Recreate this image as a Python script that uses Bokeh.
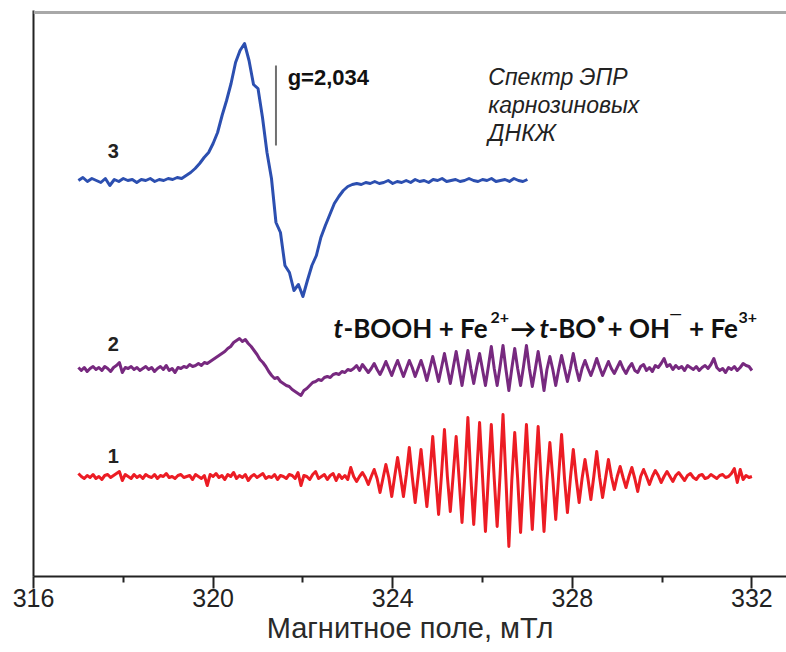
import numpy as np
from bokeh.plotting import figure
from bokeh.models import Range1d, FixedTicker, Label, Span
from bokeh.embed import file_html
from bokeh.resources import INLINE

# ---------------- data ----------------
# magnetic field range of the recorded spectra, mT
field_start = 317.0
field_end_1_2 = 332.0   # spectra 1 and 2
field_end_3 = 327.0     # spectrum 3

# spectrum 1 (red): intensity (a.u.) at equally spaced field points 317..332 mT
spec1 = [3, 0, -2, 1, -1, 2, -2, 0, -3, 1, 2, -1, 1, 3, 5, -4, 2, 0, -2, 2,
         -1, 1, -2, 2, 0, -1, 2, -2, 1, 0, 3, -1, 0, -2, 1, 2, -1, 0, 1, -3,
         2, 0, -2, 1, -9, 2, 0, 3, -1, 1, -3, 2, 0, 4, -2, 1, -1, 2, -4, 0,
         2, -1, 1, 3, -2, 0, -1, 2, -3, 1, 0, -2, 2, 1, -2, 4, -9, 1, 0, -3,
         2, 5, -2, 0, 2, -3, 1, 3, -4, 2, -2, 1, -3,
         9, 0, -5, 0, 4, -1, -8, 0, 7, -2,
         -16, -2, 12, -1, -20, 0, 19, 0, -20, 2,
         29, 0, -26, 0, 27, -2, -30, 2, 40, 0,
         -38, 2, 47, 0, -35, 2, 40, -2, -46, 3,
         59, 0, -48, 2, 54, 0, -55, 0, 52, -2,
         -50, 2, 62, -3, -70, -4, 44, -2, -56, 0,
         52, -2, -53, 0, 50, -3, -55, -4, 34, -2,
         -43, 0, 42, -2, -36, -2, 27, -2, -26, -2,
         17, -2, -23, 0, 25, -1, -21, -2, 17, 0,
         -13, 0, 10, -1, -11, 0, 9, -2, -15, 0,
         7, 0, -8, 0, 6, 1, -6, 0, 5, 0, -5, 1, 4, 0, -4, 1, 3, -1, -3, 1,
         2, -2, -1, 2, 0, -2, 1, 2, -1, 0, 3, 8, -6, 7, -3, 1, -1, 0]

# spectrum 2 (purple): intensity (a.u.) at equally spaced field points 317..332 mT
spec2 = [1, -2, 1, -3, 0, 2, -1, 1, -2, 2, 0, -3, 1, 3, 6, -4, 1, 0, 2, -1,
         1, -2, 0, 2, -1, 1, -3, 0, 2, -1, 3, -2, 0, -4, 1, 0, 2, 1, 4, 2,
         3, 5, 3, 6, 5, 7, 9, 11, 13, 15, 17, 20, 22, 26, 28, 30, 27, 29, 25, 22,
         18, 14, 9, 6, 2, -3, -7, -10, -9, -13, -15, -17, -18, -21, -23, -25, -27, -22, -20, -17,
         -14, -13, -11, -12, -9, -8, -9, -6, -5, -6, -3, -4, -1, -2, 0, 3, -2, 4, 0, -4,
         0, 5, -1, -6, 0,
         7, 0, -7, 1, 8, 0, -8, 0, 8, 1,
         -8, 0, 8, -1, -12, 0, 12, 0, -13, 1,
         15, 0, -15, 1, 17, 0, -17, 1, 18, 0,
         -15, 1, 15, -1, -17, 2, 22, 0, -17, 2,
         23, -1, -22, 0, 20, 0, -17, 2, 23, 0,
         -18, -1, 17, -1, -22, -1, 12, -1, -17, -1,
         13, 0, -13, 0, 15, 0, -12, 0, 8, 0,
         -7, 1, 10, 1, -7, 0, 7, 0, -5, 1,
         7,
         0, -5, 1, 5, -2, -4, 2, 4, -2, 1, -3, 3, 1, 5, 10, 2, 4, -1, 3, 0,
         2, -2, 3, 1, -1, 2, -2, 1, 3, 0, 4, 10, 1, -2, 0, -4, 1, -1, 2, -2,
         1, 5, 3, 2, -2]

# spectrum 3 (blue): intensity (a.u.) at equally spaced field points 317..327 mT
spec3 = [0, 3, -1, 2, 0, -2, 2, -5, 1, -1, 2, 0, 1, -2, 1, 0, 2, -1, 1, 0,
         2, 1, 3, 2, 5, 8, 12, 17, 23, 28, 37, 48, 65, 80, 97, 118, 130, 137, 120, 96,
         92, 63, 28, 2, -42, -52, -85, -92, -110, -104, -116, -100, -85, -75, -57, -45, -34, -23, -16, -10,
         -6, -4, -3, -4, -2, -3, -1, -3, -2, 0, -3, -1, -2, 0, -2, 1, -1, 0, -2, 1,
         0, 2, -1, 0, 1, -1, 0, 2, 0, -1, 1, 0, 2, -1, 0, 1, -1, 2, 0, -1, 1]

# vertical stacking offsets of the three spectra (a.u.)
offset1, offset2, offset3 = 100, 208, 396

tick_values = [316, 320, 324, 328, 332]
minor_tick_values = [318, 322, 326, 330]
g_mark_field = 321.4      # position of the g=2,034 marker

# --------------------------------------------------------------
field12 = np.linspace(field_start, field_end_1_2, len(spec1))
field3 = np.linspace(field_start, field_end_3, len(spec3))

p = figure(width=786, height=652, x_range=Range1d(316, 332.77), y_range=Range1d(0, 566),
           output_backend="svg", toolbar_location=None,
           min_border_left=33, min_border_right=0, min_border_top=10, min_border_bottom=76)
p.outline_line_color = None
p.grid.visible = False
p.background_fill_color = "white"

# x axis
xa = p.xaxis[0]
xa.ticker = FixedTicker(ticks=tick_values, minor_ticks=minor_tick_values)
xa.axis_label = "Магнитное поле, мТл"
xa.axis_label_text_font = "Liberation Sans"
xa.axis_label_text_font_style = "normal"
xa.axis_label_text_font_size = "29px"
xa.axis_label_text_color = "#2a2a2a"
xa.axis_label_standoff = 2
xa.major_label_text_font = "Liberation Sans"
xa.major_label_text_font_size = "25px"
xa.major_label_text_color = "#222222"
xa.major_label_standoff = 0
xa.axis_line_color = "#222222"
xa.axis_line_width = 2
xa.major_tick_line_color = "#222222"
xa.major_tick_line_width = 2
xa.major_tick_out = 12
xa.major_tick_in = 0
xa.minor_tick_line_color = "#222222"
xa.minor_tick_line_width = 2
xa.minor_tick_out = 6
xa.minor_tick_in = 0

# y axis: only a plain line
ya = p.yaxis[0]
ya.ticker = FixedTicker(ticks=[])
ya.major_tick_line_color = None
ya.minor_tick_line_color = None
ya.axis_line_color = "#222222"
ya.axis_line_width = 2

p.add_layout(Span(location=564, dimension="width", line_color="#a8a8a8", line_width=3))

# spectra
p.line(field12, np.array(spec1) + offset1, line_color="#ec1c24", line_width=3, line_join="round")
p.line(field12, np.array(spec2) + offset2, line_color="#77297f", line_width=3, line_join="round")
p.line(field3, np.array(spec3) + offset3, line_color="#2c4fb0", line_width=3, line_join="round")

# spectrum numbers
for lbl, yy in (("3", 426), ("2", 233), ("1", 121)):
    p.add_layout(Label(x=317.78, y=yy, text=lbl, text_font="Liberation Sans",
                       text_font_style="bold", text_font_size="20px", text_color="#222222",
                       text_align="center", text_baseline="middle"))

# g-marker
p.segment(x0=[g_mark_field], y0=[431], x1=[g_mark_field], y1=[511], line_color="#707070", line_width=2)
p.add_layout(Label(x=321.66, y=499, text="g=2,034", text_font="Liberation Sans",
                   text_font_style="bold", text_font_size="22px", text_color="#111111",
                   text_baseline="alphabetic"))

# description
for txt, yy in (("Спектр ЭПР", 500), ("карнозиновых", 472), ("ДНКЖ", 444)):
    p.add_layout(Label(x=326.13, y=yy, text=txt, text_font="Liberation Sans",
                       text_font_style="italic", text_font_size="23px", text_color="#222222",
                       text_baseline="alphabetic"))

# reaction equation, piece by piece
eq_base = 249
eq_sup = 259
pieces = [
    ("t", 322.682, eq_base, "bold italic", "26px"),
    ("-BOOH + Fe", 322.904, eq_base, "bold", "26px"),
    ("2+", 326.178, eq_sup, "bold", "16px"),
    ("\u2192", 326.62, eq_base, "bold", "26px"),
    ("t", 327.269, eq_base, "bold italic", "26px"),
    ("-BO", 327.470, eq_base, "bold", "26px"),
    ("\u2022", 328.54, eq_sup, "bold", "15px"),
    ("+ OH", 328.784, eq_base, "bold", "26px"),
    ("\u2014", 330.16, 264, "bold", "16px"),
    ("+ Fe", 330.60, eq_base, "bold", "26px"),
    ("3+", 331.70, eq_sup, "bold", "16px"),
]
for txt, xx, yy, style, size in pieces:
    p.add_layout(Label(x=xx, y=yy, text=txt, text_font="Lato", text_font_style=style,
                       text_font_size=size, text_color="#111111", text_baseline="alphabetic"))

open("out.html", "w").write(file_html(p, INLINE))
